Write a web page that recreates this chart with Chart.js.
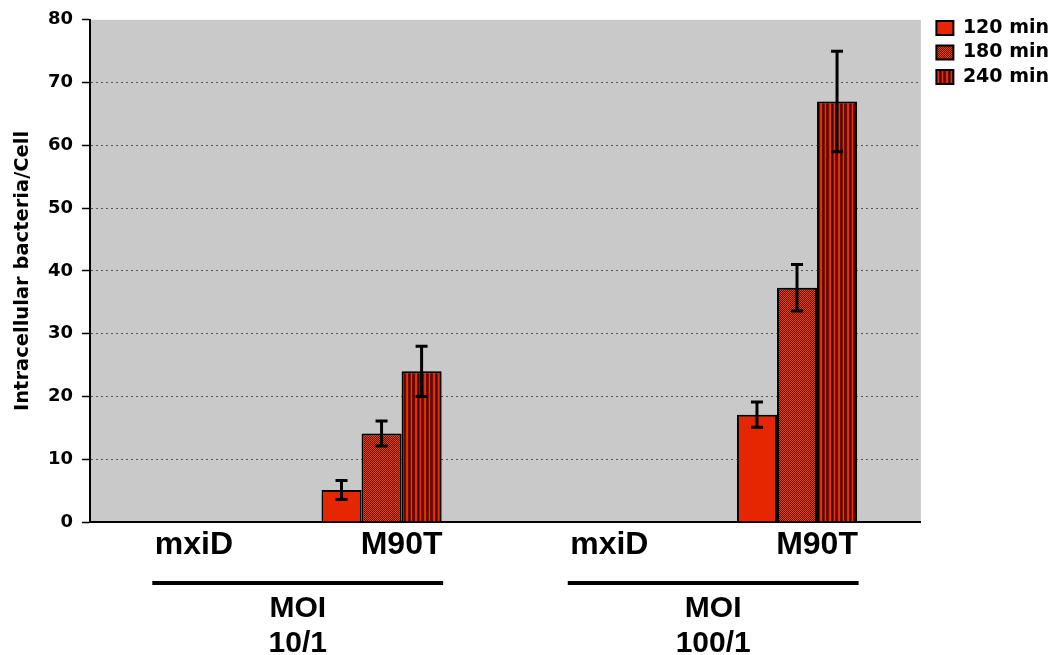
<!DOCTYPE html>
<html>
<head>
<meta charset="utf-8">
<script src="https://cdn.jsdelivr.net/npm/chart.js@4"></script>
<style>
  html, body { margin: 0; padding: 0; background: #fff; }
</style>
</head>
<body>
<canvas id="chart" width="1058" height="655"></canvas>
<script>
// categories along the x axis and the MOI groups under them
const categories = ['mxiD', 'M90T', 'mxiD', 'M90T'];
const groupLabels = [['MOI', '10/1'], ['MOI', '100/1']];
const groupSpans = [[0, 1], [2, 3]];

// series (infection time) - mean values and error bars
const seriesNames = ['120 min', '180 min', '240 min'];
const min120 = [0, 5.1, 0, 17.1];
const min180 = [0, 14.1, 0, 37.3];
const min240 = [0, 24.0, 0, 67.0];
const err120 = [0, 1.5, 0, 2.0];
const err180 = [0, 2.0, 0, 3.7];
const err240 = [0, 4.0, 0, 8.0];
// empty slot that the original chart leaves to the right of each group
const emptySlot = [null, null, null, null];

// y axis
const yTicks = [0, 10, 20, 30, 40, 50, 60, 70, 80];
const yTitle = 'Intracellular bacteria/Cell';

function makePattern(w, h, pixels) {
    const c = document.createElement('canvas');
    c.width = w;
    c.height = h;
    const g = c.getContext('2d');
    pixels.forEach(function(col, i) {
        g.fillStyle = col;
        g.fillRect(i % w, Math.floor(i / w), 1, 1);
    });
    return g.createPattern(c, 'repeat');
}

const fill120 = '#e52600';
const fill180 = makePattern(2, 2, ['#ee3c12', '#6a1200', '#6a1200', '#ee3c12']);
const fill240 = makePattern(9, 1, ['#6e0c00', '#e02a00', '#e83000', '#6e0c00', '#3c0600', '#8a1200', '#e83000', '#7c1000', '#5a0800']);

// gray plot area
const plotBackground = {
    id: 'plotBackground',
    beforeDraw(chart) {
        const {ctx, chartArea: a} = chart;
        ctx.save();
        ctx.fillStyle = '#c9c9c9';
        ctx.fillRect(a.left, a.top, a.right - a.left, a.bottom - a.top);
        ctx.restore();
    }
};

// little drop shadow to the right of the bars
const barShadow = {
    id: 'barShadow',
    beforeDatasetsDraw(chart) {
        const ctx = chart.ctx;
        ctx.save();
        ctx.shadowColor = 'rgba(0, 0, 0, 0.18)';
        ctx.shadowOffsetX = 3;
        ctx.shadowOffsetY = 0;
        ctx.shadowBlur = 0;
    },
    afterDatasetsDraw(chart) {
        chart.ctx.restore();
    }
};

const errorBars = {
    id: 'errorBars',
    afterDatasetsDraw(chart) {
        const {ctx, scales: {y}} = chart;
        ctx.save();
        ctx.strokeStyle = '#000';
        chart.data.datasets.forEach(function(ds, i) {
            if (!ds.errors) return;
            const meta = chart.getDatasetMeta(i);
            meta.data.forEach(function(bar, j) {
                const e = ds.errors[j];
                if (!e) return;
                const v = ds.data[j];
                const top = y.getPixelForValue(v + e);
                const bot = y.getPixelForValue(v - e);
                ctx.lineWidth = 3;
                ctx.beginPath();
                ctx.moveTo(bar.x, top);
                ctx.lineTo(bar.x, bot);
                ctx.stroke();
                ctx.beginPath();
                ctx.moveTo(bar.x - 6, top);
                ctx.lineTo(bar.x + 6, top);
                ctx.moveTo(bar.x - 6, bot);
                ctx.lineTo(bar.x + 6, bot);
                ctx.stroke();
            });
        });
        ctx.restore();
    }
};

// MOI group bars and labels under the x axis
const groupAxis = {
    id: 'groupAxis',
    afterDraw(chart) {
        const {ctx, scales: {x}, chartArea} = chart;
        const w = x.width / categories.length;
        ctx.save();
        ctx.fillStyle = '#000';
        ctx.font = 'bold 30px "Liberation Sans", Arial, sans-serif';
        ctx.textAlign = 'center';
        ctx.textBaseline = 'middle';
        groupSpans.forEach(function(span, g) {
            const xa = x.getPixelForValue(span[0]);
            const xb = x.getPixelForValue(span[1]);
            ctx.fillRect(xa - w * 0.2, chartArea.bottom + 59, xb - xa + w * 0.4, 4);
            groupLabels[g].forEach(function(t, k) {
                ctx.fillText(t, (xa + xb) / 2, chartArea.bottom + 87 + k * 35);
            });
        });
        ctx.restore();
    }
};

// nudge the legend to where the reference has it
const legendNudge = {
    id: 'legendNudge',
    afterLayout(chart) {
        const lg = chart.legend;
        lg.left += 10; lg.right += 10;
        lg.top += 5; lg.bottom += 5;
    }
};

const series = [
    { label: seriesNames[0], data: min120, errors: err120, backgroundColor: fill120 },
    { label: seriesNames[1], data: min180, errors: err180, backgroundColor: fill180 },
    { label: seriesNames[2], data: min240, errors: err240, backgroundColor: fill240 },
    { label: '', data: emptySlot, backgroundColor: 'rgba(0,0,0,0)' }
];

const ctx = document.getElementById('chart').getContext('2d');
new Chart(ctx, {
    type: 'bar',
    data: {
        labels: categories,
        datasets: series.map(function(ds) {
            return Object.assign(ds, {
                borderColor: '#000',
                borderWidth: 2,
                borderSkipped: 'bottom',
                barPercentage: 1,
                categoryPercentage: 0.771
            });
        })
    },
    options: {
        responsive: false,
        animation: false,
        layout: {
            padding: { left: 0, right: 9, top: 8, bottom: 0 }
        },
        plugins: {
            tooltip: { enabled: false },
            legend: {
                position: 'right',
                align: 'start',
                labels: {
                    color: '#000',
                    boxWidth: 17,
                    boxHeight: 14,
                    padding: 5.5,
                    font: { family: 'DejaVu Sans', weight: 'bold', size: 19 },
                    filter: function(item) { return item.text !== ''; }
                }
            }
        },
        scales: {
            x: {
                grid: { display: false, drawTicks: false },
                border: { color: '#000', width: 2 },
                ticks: {
                    color: '#000',
                    padding: 4,
                    font: { family: 'Liberation Sans', weight: 'bold', size: 32 }
                },
                afterFit(scale) { scale.height = 133; }
            },
            y: {
                min: 0,
                max: 80,
                afterBuildTicks(scale) {
                    scale.ticks = yTicks.map(function(v) { return { value: v }; });
                },
                grid: {
                    color: function(c) {
                        return (c.tick && (c.tick.value === 0 || c.tick.value === 80)) ? 'rgba(0,0,0,0)' : '#555';
                    },
                    lineWidth: 1,
                    tickColor: '#000',
                    tickLength: 8,
                    tickWidth: 1.5
                },
                border: { color: '#000', width: 2, dash: [2, 3] },
                ticks: {
                    color: '#000',
                    padding: 9,
                    font: { family: 'DejaVu Sans', weight: 'bold', size: 18 }
                },
                title: {
                    display: true,
                    text: yTitle,
                    color: '#000',
                    padding: { top: 11, bottom: 0 },
                    font: { family: 'DejaVu Sans', weight: 'bold', size: 19.5 }
                },
                afterFit(scale) { scale.width = 90; }
            }
        }
    },
    plugins: [plotBackground, barShadow, errorBars, groupAxis, legendNudge]
});
</script>
</body>
</html>
